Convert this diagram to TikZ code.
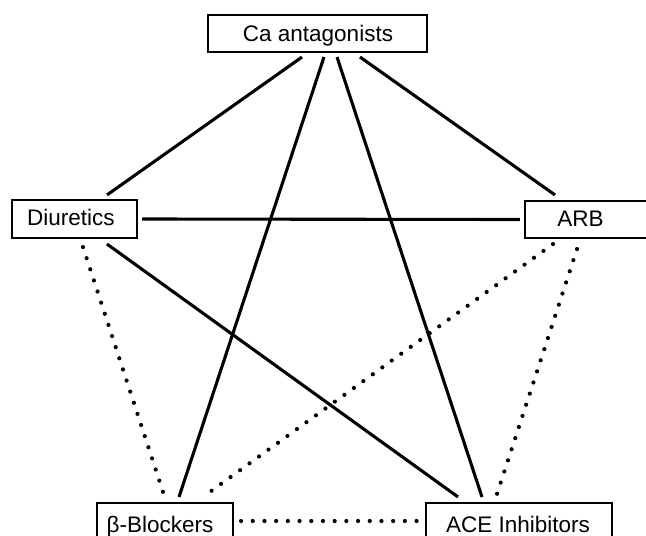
\documentclass[tikz,border=0pt]{standalone}
\usepackage{fontspec}
\setmainfont{Liberation Sans}
\begin{document}
\begin{tikzpicture}[x=1pt,y=-1pt,
  drugbox/.style={draw=black,line width=2.1pt,inner sep=0pt,fill=white},
  drugtext/.style={inner sep=0pt,font=\fontsize{22.5}{26}\selectfont,text height=16pt,text depth=0pt},
  solidlink/.style={draw=black,line width=3.1pt},
  dotlink/.style={draw=black,line width=4.2pt,line cap=round,dash pattern=on 0pt off 11.7pt}]
\useasboundingbox (0,0) rectangle (646,536);
\fill[white] (0,0) rectangle (646,536);
\begin{scope}
\clip (0,0) rectangle (646,536);
\node[drugbox,minimum width=219pt,minimum height=37pt] (ca) at (317.5,33.5) {};
\node[drugbox,minimum width=125pt,minimum height=38pt] (diu) at (74.5,219) {};
\node[drugbox,minimum width=130pt,minimum height=37pt] (arb) at (590,219.5) {};
\node[drugbox,minimum width=136pt,minimum height=44pt] (bb) at (165,525) {};
\node[drugbox,minimum width=186pt,minimum height=44pt] (ace) at (519,525) {};
\end{scope}
\node[drugtext] (cat) at (318,33) {Ca antagonists};
\node[drugtext] (diut) at (71,217.5) {Diuretics};
\node[drugtext] (arbt) at (580.5,218) {ARB};
\node[drugtext] (bbt) at (160,524) {β-Blockers};
\node[drugtext] (acet) at (518,524) {ACE Inhibitors};
% solid connectors
\draw[solidlink] ([xshift=-15.5pt,yshift=-4pt]ca.south) -- ([xshift=32.5pt,yshift=4pt]diu.north);
\draw[solidlink] ([xshift=6.5pt,yshift=-4pt]ca.south) -- ([xshift=14pt,yshift=5pt]bb.north);
\draw[solidlink] ([xshift=19.5pt,yshift=-4pt]ca.south) -- ([xshift=-37pt,yshift=5pt]ace.north);
\draw[solidlink] ([xshift=42.5pt,yshift=-4pt]ca.south) -- ([xshift=-35pt,yshift=5pt]arb.north);
\draw[solidlink] ([xshift=4pt]diu.east) -- ([xshift=-4pt]arb.west);
\draw[solidlink] ([xshift=32.5pt,yshift=-5pt]diu.south) -- ([xshift=-61pt,yshift=5pt]ace.north);
% dotted connectors
\draw[dotlink] ([xshift=8.5pt,yshift=-8pt]diu.south) -- ([xshift=-2pt,yshift=10pt]bb.north);
\draw[dotlink] ([xshift=-37pt,yshift=-5pt]arb.south) -- ([xshift=38pt,yshift=5pt]bb.north);
\draw[dotlink] ([xshift=-13pt,yshift=-10pt]arb.south) -- ([xshift=-22pt,yshift=8pt]ace.north);
\draw[dotlink] ([xshift=7pt,yshift=4pt]bb.east) -- ([xshift=-8pt,yshift=4pt]ace.west);
\end{tikzpicture}
\end{document}
